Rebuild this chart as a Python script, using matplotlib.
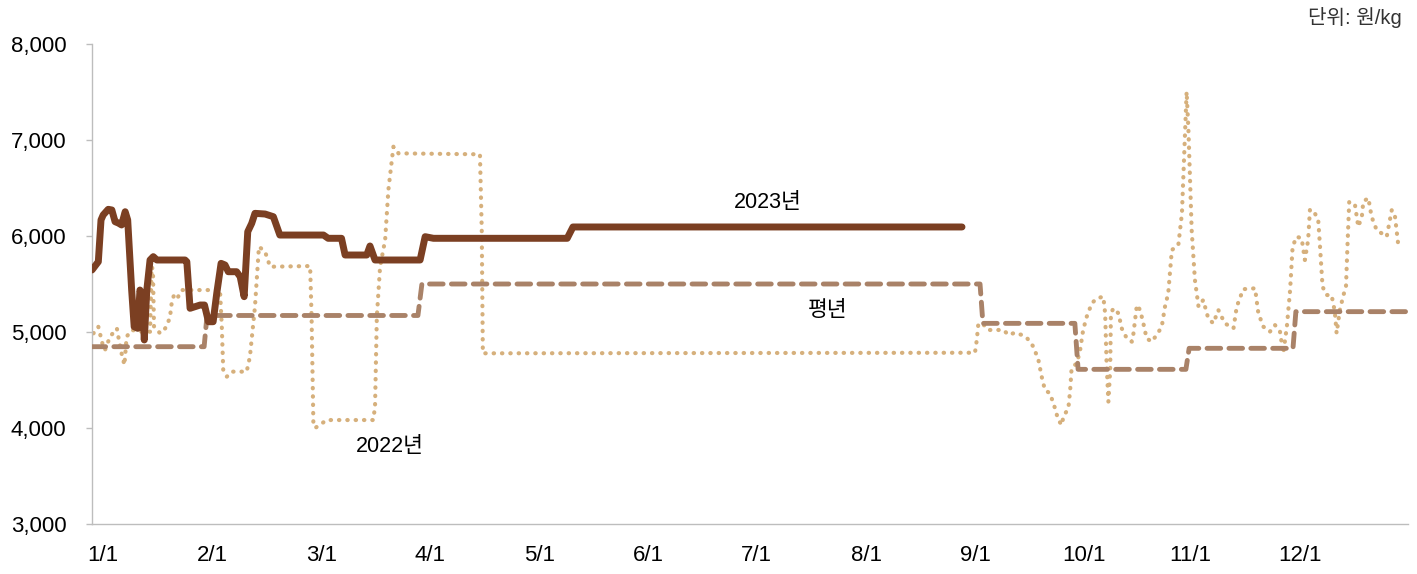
import matplotlib
matplotlib.use("Agg")
import matplotlib.pyplot as plt

plt.rcParams['font.family'] = ['Liberation Sans', 'Noto Sans CJK KR', 'DejaVu Sans']

# x = day of year (0..365), y = price (won/kg)
days_2023 = [0, 1.75, 2.5, 3.1, 4.5, 5.5, 6.4, 7.3, 8.2, 9.2, 9.9, 11.0, 11.7, 12.7, 13.3,
             14.0, 14.5, 15.2, 16.1, 17.0, 18.0, 25.8, 26.3, 27.2, 28.6, 30.0, 31.2, 32.3,
             33.6, 34.6, 35.8, 36.9, 37.8, 40.1, 41.1, 42.2, 43.2, 44.3, 45.2, 48.0, 50.3,
             52.1, 64.2, 65.5, 69.2, 70.2, 76.2, 77.1, 78.5, 91.0, 92.4, 94.7, 131.8, 133.4,
             241.3]
price_2023 = [5646, 5732, 6167, 6219, 6278, 6271, 6149, 6135, 6115, 6253, 6167, 5437, 5055,
              5038, 5437, 5368, 4917, 5437, 5750, 5785, 5750, 5750, 5732, 5247, 5264, 5281,
              5281, 5107, 5107, 5403, 5715, 5698, 5628, 5628, 5576, 5368, 6045, 6132, 6236,
              6229, 6201, 6010, 6010, 5976, 5976, 5802, 5802, 5896, 5750, 5750, 5993, 5976,
              5976, 6094, 6094]

days_2022 = [0.4, 1.75, 3.1, 3.6, 5.0, 6.9, 7.3, 8.2, 9.0, 9.6, 11.0, 13.8, 16.1, 16.55,
             16.9, 17.2, 18.9, 20.3, 21.6, 22.2, 23.0, 23.9, 24.9, 35.5, 36.0, 36.4, 37.4,
             38.8, 42.9, 43.8, 45.2, 46.1, 46.3, 48.0, 49.4, 60.5, 60.9, 61.4, 61.9, 65.1,
             78.0, 78.5, 79.0, 79.9, 81.3, 82.2, 83.6, 85.0, 107.6, 108.1, 108.4, 244.9,
             245.4, 245.8, 246.8, 248.6, 252.8, 254.2, 256.0, 257.9, 259.2, 261.1, 262.5,
             263.4, 264.3, 265.7, 267.1, 268.0, 269.0, 269.4, 270.8, 271.3, 271.7, 273.1,
             274.0, 274.9, 275.9, 277.3, 278.7, 280.5, 281.0, 281.4, 281.9, 282.4, 282.6,
             283.3, 284.7, 285.6, 287.0, 288.4, 288.8, 289.3, 289.8, 290.7, 291.6, 292.5,
             293.9, 295.3, 296.7, 297.6, 298.5, 299.5, 301.3, 302.3, 303.2, 303.6, 304.1,
             305.0, 305.9, 306.9, 308.2, 309.6, 311.0, 312.4, 313.3, 314.2, 316.6, 317.5,
             319.3, 322.6, 323.0, 323.5, 324.9, 326.7, 328.1, 329.5, 330.4, 331.4, 332.3,
             333.0, 334.1, 335.5, 336.4, 337.3, 337.8, 338.7, 340.1, 340.6, 341.3, 342.4,
             343.8, 344.7, 345.2, 346.1, 347.1, 347.8, 348.2, 348.7, 350.3, 351.2, 352.2,
             352.6, 354.0, 354.9, 356.3, 359.1, 360.5, 361.4, 362.3]
price_2022 = [4986, 5055, 4847, 4812, 4951, 5038, 4951, 4778, 4656, 4951, 5021, 5003, 5003,
              5680, 5650, 5055, 4986, 5038, 5146, 5333, 5403, 5368, 5437, 5437, 5055, 4604,
              4535, 4587, 4587, 4743, 5264, 5785, 5889, 5837, 5680, 5687, 5160, 4049, 4000,
              4083, 4083, 4222, 5160, 5680, 5958, 6479, 6930, 6861, 6851, 6062, 4778, 4784,
              4917, 5073, 5097, 5021, 5021, 4969, 4993, 4969, 4944, 4847, 4708, 4535, 4396,
              4361, 4205, 4083, 4031, 4118, 4205, 4396, 4622, 4674, 4795, 5021, 5160, 5299,
              5351, 5368, 5194, 4674, 4274, 4604, 5194, 5247, 5194, 5038, 4934, 4899, 4969,
              5125, 5281, 5229, 5090, 4934, 4899, 4969, 5055, 5264, 5403, 5854, 5906, 6236,
              7104, 7503, 7104, 6062, 5542, 5264, 5333, 5142, 5090, 5229, 5160, 5090, 5038,
              5264, 5446, 5455, 5333, 5194, 5055, 5003, 5073, 5003, 4778, 5055, 5437, 5889,
              5993, 5976, 5750, 5958, 6271, 6271, 6167, 5889, 5472, 5385, 5385, 5212, 4986,
              5229, 5385, 5472, 5889, 6358, 6323, 6097, 6201, 6358, 6396, 6201, 6062, 5993,
              6271, 6201, 5906]

days_avg = [0, 31.1, 31.9, 90.4, 91.5, 246.3, 247.1, 272.6, 273.5, 303.4, 304.3, 333.1,
            333.9, 365]
price_avg = [4847, 4847, 5172, 5172, 5500, 5500, 5090, 5090, 4611, 4611, 4830, 4830,
             5212, 5212]

month_ticks = [3, 33.3, 63.8, 93.7, 124.2, 154.2, 184.4, 214.7, 244.9, 275.1, 304.5, 335]
month_labels = ['1/1', '2/1', '3/1', '4/1', '5/1', '6/1', '7/1', '8/1', '9/1', '10/1',
                '11/1', '12/1']
y_ticks = [3000, 4000, 5000, 6000, 7000, 8000]

c2023 = '#7b3f22'
cavg = '#a98268'
c2022 = '#d6b07c'

fig = plt.figure(figsize=(14.17, 5.74), dpi=100)
ax = fig.add_axes([92 / 1417, 1 - 524 / 574, 1316 / 1417, 480 / 574])

ax.plot(days_2022, price_2022, color=c2022, lw=3, linestyle=(0, (0.1, 1.9)),
        dash_capstyle='round', solid_joinstyle='round', zorder=2)
ax.plot(days_avg, price_avg, color=cavg, lw=3.5, linestyle=(0, (2.8, 1.7)),
        dash_capstyle='round', dash_joinstyle='round', zorder=3)
ax.plot(days_2023, price_2023, color=c2023, lw=5, solid_capstyle='round',
        solid_joinstyle='round', zorder=4)

ax.text(187.5, 6344, '2023년', fontsize=15.5, ha='center', va='center')
ax.text(204.1, 5229, '평년', fontsize=15.5, ha='center', va='center')
ax.text(82.7, 3812, '2022년', fontsize=15.5, ha='center', va='center')
fig.text(1402 / 1417, 1 - 18 / 574, '단위: 원/kg', fontsize=14.5, ha='right', va='center',
         color='#333333')

ax.set_xlim(0, 365)
ax.set_ylim(3000, 8000)
ax.set_yticks(y_ticks)
ax.set_yticklabels([f'{v:,}' for v in y_ticks])
ax.set_xticks(month_ticks)
ax.set_xticklabels(month_labels)

for s in ['top', 'right']:
    ax.spines[s].set_visible(False)
for s in ['left', 'bottom']:
    ax.spines[s].set_color('#bdbdbd')
    ax.spines[s].set_linewidth(1)

ax.tick_params(axis='y', length=4.5, width=1, color='#bdbdbd', pad=14, labelsize=16)
ax.tick_params(axis='x', length=0, pad=15, labelsize=16)

fig.savefig('out.png', dpi=100)
